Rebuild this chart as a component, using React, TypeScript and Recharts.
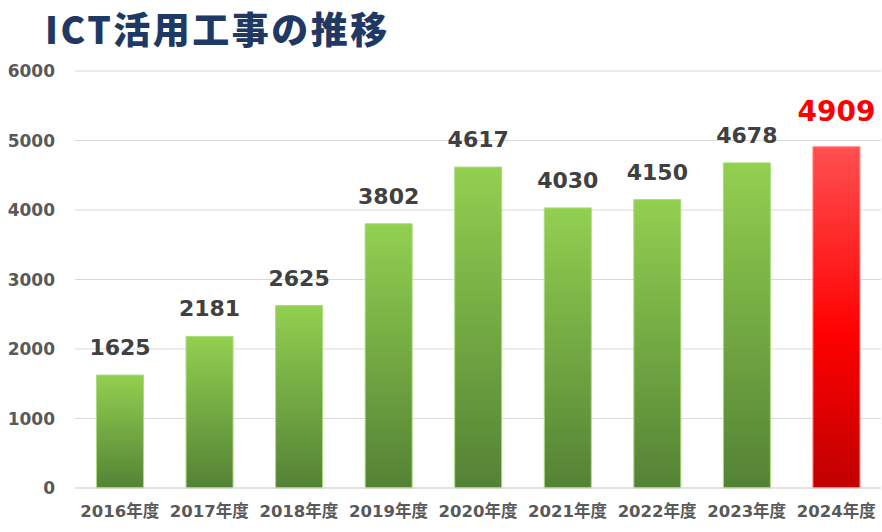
import { BarChart, Bar, XAxis, YAxis, CartesianGrid, LabelList, Cell } from 'recharts'

const years = ['2016年度', '2017年度', '2018年度', '2019年度', '2020年度', '2021年度', '2022年度', '2023年度', '2024年度']
const counts = [1625, 2181, 2625, 3802, 4617, 4030, 4150, 4678, 4909]
const yTicks = [0, 1000, 2000, 3000, 4000, 5000, 6000]

const data = years.map((year, i) => ({ year, count: counts[i] }))
const lastIdx = data.length - 1

const FONT = '"DejaVu Sans", "Noto Sans CJK JP", sans-serif'

function ValueLabel(props: any) {
  const { x, y, width, value, index } = props
  const hot = index === lastIdx
  return (
    <text
      x={x + width / 2}
      y={y - (hot ? 26 : 20)}
      textAnchor="middle"
      fontFamily={FONT}
      fontWeight="bold"
      fontSize={hot ? 28 : 22}
      fill={hot ? '#ff0000' : '#404040'}
    >
      {value}
    </text>
  )
}

export default function App() {
  return (
    <div style={{ position: 'absolute', left: 0, top: 0, width: 882, height: 532, background: '#fff' }}>
      <div
        style={{
          position: 'absolute',
          left: 45,
          top: 3,
          fontFamily: '"Noto Sans CJK JP", "DejaVu Sans", sans-serif',
          fontWeight: 900,
          fontSize: 37,
          letterSpacing: 2.5,
          color: '#1f3864',
          lineHeight: '50px',
        }}
      >
        ICT活用工事の推移
      </div>
      <BarChart
        width={882}
        height={532}
        data={data}
        margin={{ top: 71, right: 1, bottom: 0, left: 0 }}
        barCategoryGap="24%"
      >
        <defs>
          <linearGradient id="greenGrad" x1="0" y1="0" x2="0" y2="1">
            <stop offset="0%" stopColor="#92d050" />
            <stop offset="100%" stopColor="#548235" />
          </linearGradient>
          <linearGradient id="redGrad" x1="0" y1="0" x2="0" y2="1">
            <stop offset="0%" stopColor="#ff5050" />
            <stop offset="55%" stopColor="#ff0000" />
            <stop offset="100%" stopColor="#c00000" />
          </linearGradient>
        </defs>
        <CartesianGrid vertical={false} stroke="#d9d9d9" />
        <XAxis
          dataKey="year"
          height={44}
          axisLine={{ stroke: '#d9d9d9' }}
          tickLine={false}
          tickSize={0}
          tickMargin={17}
          tick={{ fontFamily: FONT, fontWeight: 'bold', fontSize: 16.5, fill: '#595959' }}
          interval={0}
        />
        <YAxis
          width={75}
          domain={[0, 6000]}
          ticks={yTicks}
          axisLine={false}
          tickLine={false}
          tickSize={0}
          tickMargin={20}
          tick={{ fontFamily: FONT, fontWeight: 'bold', fontSize: 17, fill: '#595959' }}
        />
        <Bar dataKey="count" isAnimationActive={false}>
          {data.map((d, i) => (
            <Cell
              key={d.year}
              fill={i === lastIdx ? 'url(#redGrad)' : 'url(#greenGrad)'}
              stroke={i === lastIdx ? '#ff8080' : '#a9dc7c'}
              strokeWidth={1}
            />
          ))}
          <LabelList dataKey="count" content={<ValueLabel />} />
        </Bar>
      </BarChart>
    </div>
  )
}
